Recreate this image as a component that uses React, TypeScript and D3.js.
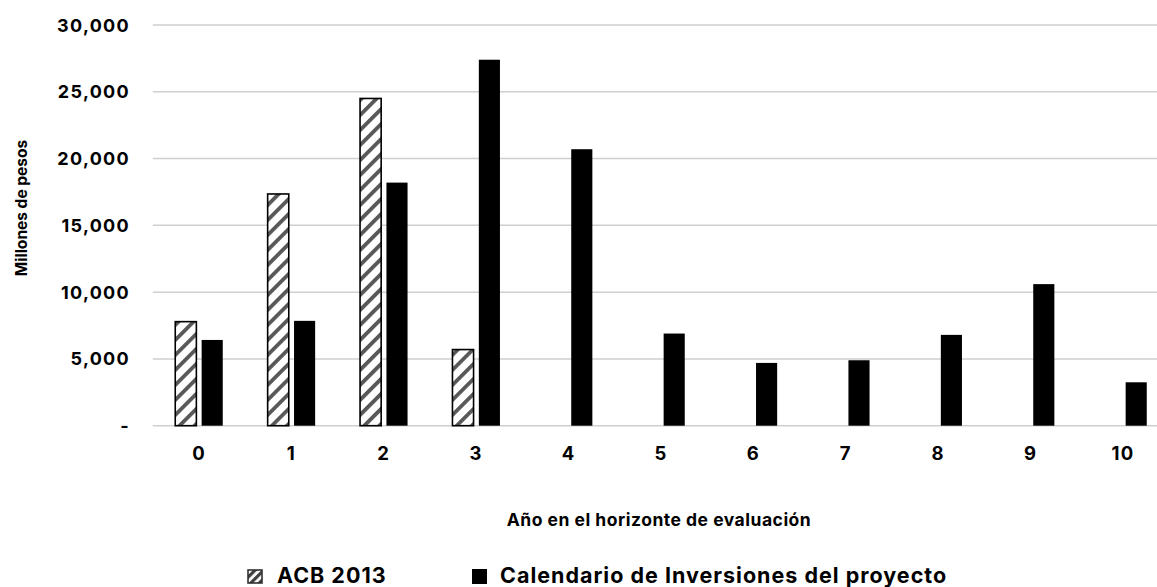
import React from 'react';
import * as d3 from 'd3';

const categories = ['0', '1', '2', '3', '4', '5', '6', '7', '8', '9', '10'];
const acbValues: (number | null)[] = [7790, 17350, 24500, 5700, null, null, null, null, null, null, null];
const calendarioValues: number[] = [6420, 7850, 18200, 27400, 20700, 6900, 4700, 4900, 6800, 10600, 3250];
const yTicks = [0, 5000, 10000, 15000, 20000, 25000, 30000];
const seriesNames = ['ACB 2013', 'Calendario de Inversiones del proyecto'];

const FONT = 'Inter, "DejaVu Sans", sans-serif';

function App() {
  const width = 1157;
  const height = 587;

  // plot runs past the right edge (the original image is cropped there)
  const x = d3.scaleBand().domain(categories).range([152.8, 1169.2]).paddingInner(0).paddingOuter(0);
  const bw = x.bandwidth();
  const x1 = d3
    .scaleBand()
    .domain(['acb', 'cal'])
    .range([bw / 2 - 23.75, bw / 2 + 23.75])
    .paddingInner(0.2);
  const y = d3.scaleLinear().domain([0, 30000]).range([425.7, 25]);
  const fmt = d3.format(',');

  return (
    <svg
      width={width}
      height={height}
      style={{ position: 'absolute', left: 0, top: 0, background: '#fff' }}
      fontFamily={FONT}
    >
      <defs>
        <pattern
          id="hatch"
          patternUnits="userSpaceOnUse"
          width={10.6}
          height={10.6}
          patternTransform="rotate(45)"
        >
          <rect x={0} y={0} width={10.6} height={10.6} fill="#fff" />
          <rect x={0} y={0} width={3.8} height={10.6} fill="#585858" />
        </pattern>
        <pattern
          id="hatchSmall"
          patternUnits="userSpaceOnUse"
          width={6}
          height={6}
          patternTransform="rotate(45)"
        >
          <rect x={0} y={0} width={6} height={6} fill="#fff" />
          <rect x={0} y={0} width={3.2} height={6} fill="#3f3f3f" />
        </pattern>
      </defs>

      {/* gridlines */}
      {yTicks.map((t) => (
        <line
          key={t}
          x1={152.8}
          x2={width}
          y1={y(t)}
          y2={y(t)}
          stroke="#cfcfcf"
          strokeWidth={1.5}
        />
      ))}

      {/* y tick labels */}
      {yTicks.map((t) => (
        <text
          key={'l' + t}
          x={130}
          y={y(t)}
          textAnchor="end"
          dominantBaseline="central"
          fontSize={18}
          fontWeight={700}
          letterSpacing={1.3}
          fill="#000"
        >
          {t === 0 ? '-' : fmt(t)}
        </text>
      ))}

      {/* bars */}
      {categories.map((c, i) => {
        const gx = x(c) as number;
        const a = acbValues[i];
        const b = calendarioValues[i];
        return (
          <g key={c} transform={`translate(${gx},0)`}>
            {a !== null && (
              <rect
                x={x1('acb')}
                y={y(a)}
                width={x1.bandwidth()}
                height={y(0) - y(a)}
                fill="url(#hatch)"
                stroke="#000"
                strokeWidth={1.6}
              />
            )}
            <rect
              x={x1('cal')}
              y={y(b)}
              width={x1.bandwidth()}
              height={y(0) - y(b)}
              fill="#000"
            />
          </g>
        );
      })}

      {/* x tick labels */}
      {categories.map((c) => (
        <text
          key={'x' + c}
          x={(x(c) as number) + bw / 2}
          y={460}
          textAnchor="middle"
          fontSize={18.5}
          fontWeight={700}
          letterSpacing={1.2}
          fill="#000"
        >
          {c}
        </text>
      ))}

      {/* axis titles */}
      <text x={659} y={526} textAnchor="middle" fontSize={17.5} fontWeight={700} letterSpacing={0.5} fill="#000">
        Año en el horizonte de evaluación
      </text>
      <text
        transform="translate(27,208) rotate(-90)"
        textAnchor="middle"
        fontSize={15.5}
        fontWeight={700}
        fill="#000"
      >
        Millones de pesos
      </text>

      {/* legend */}
      <rect x={248} y={570} width={14} height={13} fill="url(#hatchSmall)" stroke="#333" strokeWidth={1.6} />
      <text x={277} y={583} fontSize={21.5} fontWeight={700} letterSpacing={1} fill="#000">
        {seriesNames[0]}
      </text>
      <rect x={472} y={569} width={15} height={15} fill="#000" />
      <text x={500} y={583} fontSize={21.5} fontWeight={700} letterSpacing={1} fill="#000">
        {seriesNames[1]}
      </text>
    </svg>
  );
}

export default App;
